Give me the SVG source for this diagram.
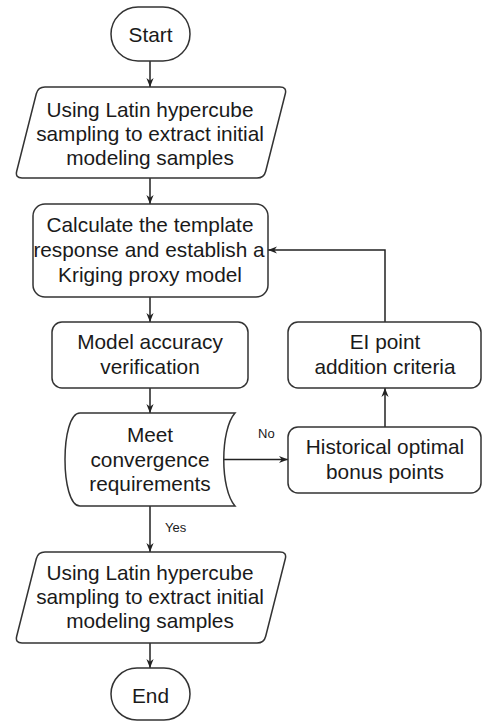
<svg xmlns="http://www.w3.org/2000/svg" width="483" height="722" viewBox="0 0 483 722">
<style>
.n{fill:#fff;stroke:#333;stroke-width:1.5}
.t{font-family:"Liberation Sans",Arial,sans-serif;font-size:20.8px;fill:#1a1a1a;text-anchor:middle}
.l{font-family:"Liberation Sans",Arial,sans-serif;font-size:13px;fill:#1a1a1a}
.c{fill:none;stroke:#222;stroke-width:1.5}
</style>
<defs>
<marker id="a" viewBox="0 0 10 10" refX="10" refY="5" markerWidth="9" markerHeight="9" markerUnits="userSpaceOnUse" orient="auto">
<path d="M0,1 L10,5 L0,9 L3,5 Z" fill="#222"/>
</marker>
<path id="para" d="M45,87 L280,87 Q287,87 285.3,93.8 L265.7,171.2 Q264,178 257,178 L22,178 Q15,178 16.7,171.2 L36.3,93.8 Q38,87 45,87 Z"/>
</defs>
<rect width="483" height="722" fill="#fff"/>
<g id="connectors">
<path class="c" d="M150,61 V87" marker-end="url(#a)"/>
<path class="c" d="M150,178 V204" marker-end="url(#a)"/>
<path class="c" d="M150,297 V322" marker-end="url(#a)"/>
<path class="c" d="M150,388 V413" marker-end="url(#a)"/>
<path class="c" d="M150,506 V552" marker-end="url(#a)"/>
<path class="c" d="M150,643 V668" marker-end="url(#a)"/>
<path class="c" d="M224,459.5 H288" marker-end="url(#a)"/>
<path class="c" d="M385,427 V388" marker-end="url(#a)"/>
<path class="c" d="M385,322 V250 H268" marker-end="url(#a)"/>
<text class="l" x="258" y="438">No</text>
<text class="l" x="165" y="532">Yes</text>
</g>
<g id="start">
<rect class="n" x="111" y="7" width="79" height="54" rx="27"/>
<text class="t" x="150.5" y="42">Start</text>
</g>
<g id="sampling1">
<use href="#para" class="n"/>
<text class="t" x="150" y="117">Using Latin hypercube</text>
<text class="t" x="150" y="141">sampling to extract initial</text>
<text class="t" x="150" y="165">modeling samples</text>
</g>
<g id="kriging">
<rect class="n" x="33" y="204" width="235" height="93" rx="12"/>
<text class="t" x="150" y="232">Calculate the template</text>
<text class="t" x="149" y="257">response and establish a</text>
<text class="t" x="150" y="282">Kriging proxy model</text>
</g>
<g id="accuracy">
<rect class="n" x="52" y="322" width="196" height="66" rx="10"/>
<text class="t" x="150" y="349">Model accuracy</text>
<text class="t" x="150" y="374">verification</text>
</g>
<g id="ei">
<rect class="n" x="288" y="322" width="193" height="66" rx="10"/>
<text class="t" x="385" y="349">EI point</text>
<text class="t" x="385" y="374">addition criteria</text>
</g>
<g id="convergence">
<path class="n" d="M80,413 L235,413 C220,430 220,489 235,506 L80,506 C60,506 60,413 80,413 Z"/>
<text class="t" x="150" y="442">Meet</text>
<text class="t" x="150" y="467">convergence</text>
<text class="t" x="150" y="491">requirements</text>
</g>
<g id="historical">
<rect class="n" x="288" y="427" width="193" height="66" rx="10"/>
<text class="t" x="385" y="454">Historical optimal</text>
<text class="t" x="385" y="479">bonus points</text>
</g>
<g id="sampling2">
<use href="#para" class="n" transform="translate(0,465)"/>
<text class="t" x="150" y="580">Using Latin hypercube</text>
<text class="t" x="150" y="604">sampling to extract initial</text>
<text class="t" x="150" y="628">modeling samples</text>
</g>
<g id="end">
<rect class="n" x="111" y="668" width="79" height="52" rx="26"/>
<text class="t" x="150.5" y="703">End</text>
</g>
</svg>
